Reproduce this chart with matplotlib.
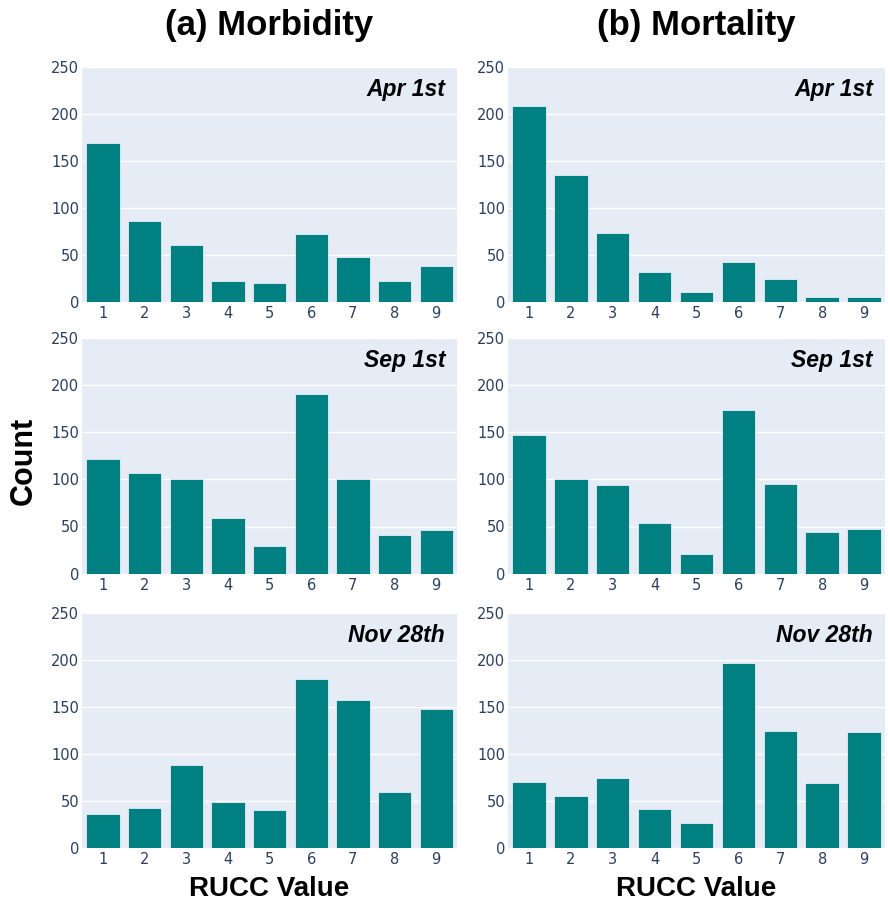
import matplotlib
matplotlib.use("Agg")
import matplotlib.pyplot as plt

rucc = [1, 2, 3, 4, 5, 6, 7, 8, 9]
dates = ["Apr 1st", "Sep 1st", "Nov 28th"]

morb_apr = [169, 86, 61, 23, 20, 73, 48, 23, 38]
morb_sep = [122, 107, 100, 59, 29, 190, 100, 41, 46]
morb_nov = [36, 43, 88, 49, 41, 180, 157, 60, 148]

mort_apr = [208, 135, 74, 32, 11, 43, 25, 6, 6]
mort_sep = [147, 100, 94, 54, 21, 173, 95, 44, 47]
mort_nov = [70, 55, 75, 42, 27, 197, 125, 69, 123]

columns = [("(a) Morbidity", [morb_apr, morb_sep, morb_nov]),
           ("(b) Mortality", [mort_apr, mort_sep, mort_nov])]

W, H = 888, 906
fig = plt.figure(figsize=(W / 100, H / 100), dpi=100)

col_x = [(82, 457), (508, 885)]
row_y = [(66.7, 302.3), (337.7, 573.7), (612.7, 848.3)]

bg = "#E5ECF6"
bar_color = "#008080"
tick_color = "#2a3f5f"
font = ["Liberation Sans", "DejaVu Sans"]

for ci, (title, series) in enumerate(columns):
    x0, x1 = col_x[ci]
    for ri, vals in enumerate(series):
        y0, y1 = row_y[ri]
        ax = fig.add_axes([x0 / W, 1 - y1 / H, (x1 - x0) / W, (y1 - y0) / H])
        ax.set_facecolor(bg)
        ax.bar(rucc, vals, width=0.8, color=bar_color, edgecolor=bg, linewidth=0.6, zorder=3)
        ax.set_xlim(0.5, 9.5)
        ax.set_ylim(0, 250)
        ax.set_yticks([0, 50, 100, 150, 200, 250])
        ax.set_xticks(rucc)
        ax.grid(axis="y", color="white", linewidth=1, zorder=0)
        ax.set_axisbelow(True)
        for s in ax.spines.values():
            s.set_visible(False)
        ax.tick_params(axis="both", length=0, colors=tick_color, labelsize=10.5)
        ax.tick_params(axis="y", pad=2)
        ax.tick_params(axis="x", pad=3)
        ax.text(0.968, 1 - 29 / (y1 - y0), dates[ri], transform=ax.transAxes,
                ha="right", va="baseline", fontsize=16.5, fontweight="bold",
                fontstyle="italic", family=font, color="black")
    fig.text(((x0 + x1) / 2) / W, 1 - 35 / H, title, ha="center", va="baseline",
             fontsize=25, fontweight="bold", family=font)
    fig.text(((x0 + x1) / 2) / W, 1 - 896 / H, "RUCC Value", ha="center", va="baseline",
             fontsize=20, fontweight="bold", family=font)

fig.text(24 / W, 1 - 461 / H, "Count", ha="center", va="center", rotation=90,
         fontsize=22, fontweight="bold", family=font)

fig.savefig("out.png", dpi=100, facecolor="white")
